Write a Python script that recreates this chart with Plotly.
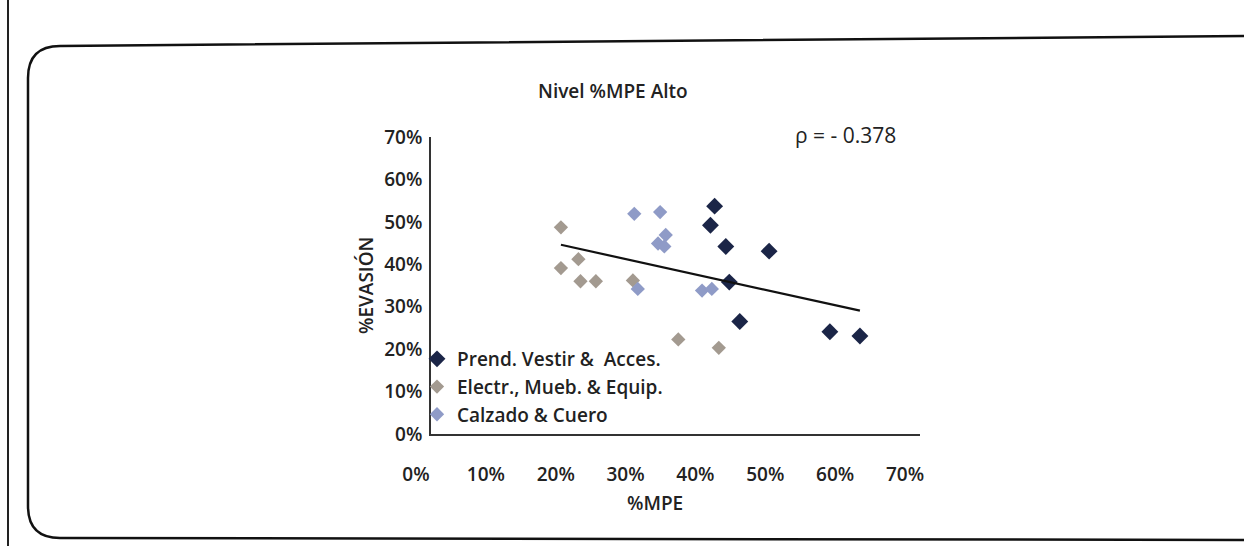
import numpy as np
import plotly.graph_objects as go

# ---- data (fractions) ----
series_names = ["Prend. Vestir &  Acces.", "Electr., Mueb. & Equip.", "Calzado & Cuero"]
prend_x = [0.406, 0.400, 0.422, 0.484, 0.427, 0.442, 0.571, 0.614]
prend_y = [0.537, 0.492, 0.442, 0.431, 0.358, 0.265, 0.241, 0.231]
electr_x = [0.186, 0.186, 0.211, 0.214, 0.236, 0.289, 0.354, 0.412]
electr_y = [0.487, 0.391, 0.412, 0.360, 0.360, 0.362, 0.223, 0.203]
calz_x = [0.291, 0.328, 0.336, 0.325, 0.334, 0.296, 0.388, 0.402]
calz_y = [0.519, 0.523, 0.469, 0.449, 0.442, 0.342, 0.338, 0.342]
tick_vals = [0, 0.1, 0.2, 0.3, 0.4, 0.5, 0.6, 0.7]
tick_text = ["0%", "10%", "20%", "30%", "40%", "50%", "60%", "70%"]
title_text = "Nivel %MPE Alto"
rho_text = "ρ = - 0.378"

W, H = 1244, 546
FONT = "Open Sans"
TXT = "#222222"

def px(x):
    return x / W

def py(y):
    return 1 - y / H

fig = go.Figure()
colors = ["#1b2547", "#a39a90", "#8f9bc7"]
sizes = [13, 11, 11]
for name, xs, ys, c, s in zip(series_names, [prend_x, electr_x, calz_x],
                              [prend_y, electr_y, calz_y], colors, sizes):
    fig.add_trace(go.Scatter(x=xs, y=ys, mode="markers", name=name,
                             marker=dict(symbol="diamond", size=s, color=c,
                                         line=dict(width=0))))

# linear trend over all points
all_x = np.array(prend_x + electr_x + calz_x)
all_y = np.array(prend_y + electr_y + calz_y)
m, b = np.polyfit(all_x, all_y, 1)
tx = np.array([all_x.min(), all_x.max()])
fig.add_trace(go.Scatter(x=tx, y=m * tx + b, mode="lines", showlegend=False,
                         line=dict(color="#111111", width=2.2)))

# page frame decoration
frame = (f"M {px(1250)},{py(36)} L {px(60)},{py(46)} Q {px(28)},{py(46)} {px(28)},{py(78)} "
         f"L {px(28)},{py(506)} Q {px(28)},{py(538)} {px(60)},{py(538)} L {px(1250)},{py(540)}")
shapes = [
    dict(type="path", path=frame, xref="paper", yref="paper",
         line=dict(color="#111111", width=2.5), layer="below"),
    dict(type="line", xref="paper", yref="paper", x0=px(8), x1=px(8), y0=0, y1=1,
         line=dict(color="#222222", width=2)),
]

def ann(text, x, y, size, weight=600, angle=0):
    return dict(text=text, x=px(x), y=py(y), xref="paper", yref="paper",
                xanchor="center", yanchor="middle", showarrow=False, textangle=angle,
                font=dict(size=size, family=FONT, color=TXT, weight=weight))

fig.update_layout(
    width=W, height=H,
    margin=dict(l=0, r=0, t=0, b=0),
    paper_bgcolor="#ffffff", plot_bgcolor="rgba(0,0,0,0)",
    font=dict(family=FONT, color=TXT, size=16),
    shapes=shapes,
    showlegend=True,
    legend=dict(x=px(417), y=py(340), xanchor="left", yanchor="top",
                bgcolor="rgba(0,0,0,0)",
                font=dict(size=19, family=FONT, color=TXT, weight=600),
                itemwidth=30, tracegroupgap=0),
    annotations=[
        ann(title_text, 613, 91, 19),
        ann(rho_text, 845, 135, 21, weight=500),
        ann("%EVASIÓN", 366, 285, 19, angle=-90),
        ann("%MPE", 655, 503, 19),
    ],
    xaxis=dict(domain=[px(431), px(920)], range=[0, 0.7], tickvals=tick_vals,
               ticktext=tick_text, showgrid=False, zeroline=False, showline=True,
               linecolor="#333333", linewidth=1.6, ticks="", automargin=False,
               tickfont=dict(size=19, family=FONT, color=TXT, weight=600),
               ticklabelstandoff=22, ticklabelshift=-15),
    yaxis=dict(domain=[py(434), py(137)], range=[0, 0.7], tickvals=tick_vals,
               ticktext=tick_text, showgrid=False, zeroline=False, showline=True,
               linecolor="#333333", linewidth=1.6, ticks="", automargin=False,
               tickfont=dict(size=19, family=FONT, color=TXT, weight=600),
               ticklabelstandoff=3),
)

fig.write_html("out.html", config={"displayModeBar": False},
               post_script="document.body.style.margin='0';")
